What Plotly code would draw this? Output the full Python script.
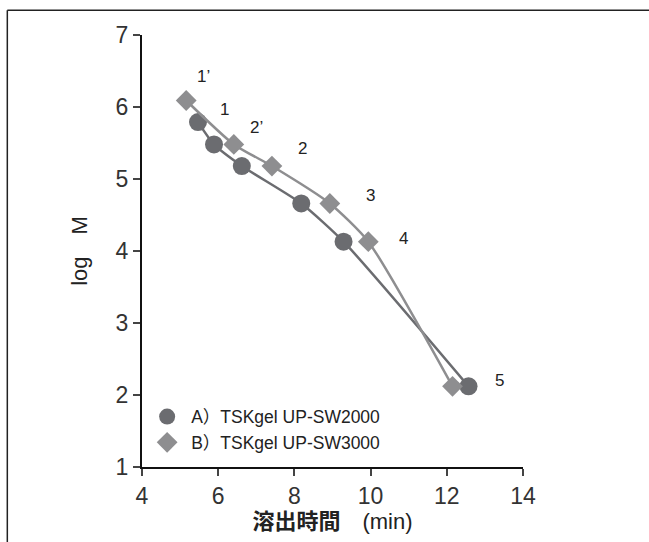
import plotly.graph_objects as go

# Data
a_name = "A）TSKgel UP-SW2000"
a_time = [5.47, 5.89, 6.62, 8.18, 9.29, 12.57]
a_logm = [5.79, 5.48, 5.18, 4.66, 4.13, 2.12]

b_name = "B）TSKgel UP-SW3000"
b_time = [5.16, 6.41, 7.41, 8.93, 9.94, 12.15]
b_logm = [6.09, 5.48, 5.18, 4.66, 4.13, 2.12]

point_labels = ["1’", "1", "2’", "2", "3", "4", "5"]
label_x = [5.62, 6.17, 7.0, 8.2, 10.0, 10.87, 13.37]
label_y = [6.42, 5.97, 5.72, 5.43, 4.77, 4.17, 2.2]

x_ticks = [4, 6, 8, 10, 12, 14]
y_ticks = [1, 2, 3, 4, 5, 6, 7]

col_a = "#6b6c70"
col_b = "#8e8e90"
font_lat = "Liberation Sans, Arial, Noto Sans CJK JP, sans-serif"
font_cjk = "Liberation Sans, Noto Sans CJK JP, sans-serif"

fig = go.Figure()
fig.add_trace(go.Scatter(
    x=a_time, y=a_logm, mode="lines+markers", showlegend=False,
    line=dict(color=col_a, width=2.5, shape="spline", smoothing=0.6),
    marker=dict(symbol="circle", size=18, color=col_a),
))
fig.add_trace(go.Scatter(
    x=b_time, y=b_logm, mode="lines+markers", showlegend=False,
    line=dict(color=col_b, width=2.5, shape="spline", smoothing=0.6),
    marker=dict(symbol="diamond", size=16, color=col_b),
))
# legend entries (markers only)
fig.add_trace(go.Scatter(x=[None], y=[None], mode="markers", name=a_name,
                         marker=dict(symbol="circle", size=16, color=col_a)))
fig.add_trace(go.Scatter(x=[None], y=[None], mode="markers", name=b_name,
                         marker=dict(symbol="diamond", size=16, color=col_b)))

for t, x, y in zip(point_labels, label_x, label_y):
    fig.add_annotation(x=x, y=y, text=t, showarrow=False,
                       font=dict(size=17, color="#222", family=font_lat))

# outer frame (top and left edges)
fig.add_shape(type="line", xref="paper", yref="paper",
              x0=-0.3535, x1=1.4, y0=1.0572, y1=1.0572,
              line=dict(color="#222", width=1.5))
fig.add_shape(type="line", xref="paper", yref="paper",
              x0=-0.3535, x1=-0.3535, y0=1.0572, y1=-0.3,
              line=dict(color="#222", width=1.5))

fig.update_layout(
    width=649, height=542,
    margin=dict(l=142, r=126, t=35, b=75),
    paper_bgcolor="white", plot_bgcolor="white",
    font=dict(family=font_cjk, color="#222"),
    legend=dict(x=0.003, y=0.158, xanchor="left", yanchor="top",
                itemwidth=38, tracegroupgap=0,
                bgcolor="rgba(0,0,0,0)", font=dict(size=17.5, family=font_cjk, color="#222")),
    xaxis=dict(range=[4, 14], tickvals=x_ticks, showgrid=False, zeroline=False,
               showline=True, linecolor="#111", linewidth=2,
               ticks="outside", ticklen=7, tickwidth=1.5, tickcolor="#444",
               tickfont=dict(size=23, family=font_lat, color="#333"),
               title=dict(text="<b>溶出時間</b>　(min)", standoff=4,
                          font=dict(size=22, family=font_cjk, color="#222"))),
    yaxis=dict(range=[1, 7], tickvals=y_ticks, showgrid=False, zeroline=False,
               showline=True, linecolor="#111", linewidth=2,
               ticks="outside", ticklen=7, tickwidth=1.5, tickcolor="#444",
               tickfont=dict(size=23, family=font_lat, color="#333"),
               title=dict(text="log　M", standoff=22,
                          font=dict(size=22, family=font_cjk, color="#222"))),
)

fig.write_html("out.html")
